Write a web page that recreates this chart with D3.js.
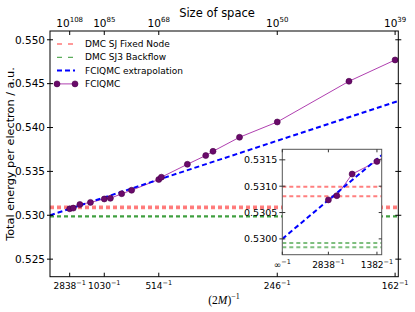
<!DOCTYPE html>
<html><head><meta charset="utf-8">
<script src="https://cdn.jsdelivr.net/npm/d3@7"></script>
<style>body{margin:0;background:#fff}svg{display:block}text{font-family:"DejaVu Sans",sans-serif}</style>
</head><body>
<script>
// ---- data ----
const twoM = [2838, 2400, 1873, 1382, 1030, 926, 780, 685, 514, 502, 407, 359, 343, 295, 246, 187, 162];
const energy = [0.53074, 0.53082, 0.53123, 0.53147, 0.53186, 0.53193, 0.53246, 0.53285, 0.53408, 0.53434, 0.53581, 0.53681, 0.53729, 0.53889, 0.54063, 0.54527, 0.54770];
const extrapX = [0, 0.00623];
const extrapY = [0.53000, 0.54302];
const dmcFixedNode = [0.53081, 0.53099];
const dmcBackflow = [0.52984, 0.52992];
const xTicks2M = [2838, 1030, 514, 246, 162];
const topExponents = ["108", "85", "68", "50", "39"];
const yTicks = [0.525, 0.530, 0.535, 0.540, 0.545, 0.550];
const insetXTicks = [Infinity, 2838, 1382];
const insetYTicks = [0.5300, 0.5305, 0.5310, 0.5315];
const legendLabels = ["DMC SJ Fixed Node", "DMC SJ3 Backflow", "FCIQMC extrapolation", "FCIQMC"];

const W = 415, H = 312;
const svg = d3.select("body").append("svg").attr("width", W).attr("height", H);
const P = {l: 50, t: 31, r: 398.3, b: 276.7};
const x = d3.scaleLinear().domain([0, 0.00623]).range([P.l, P.r]);
const y = d3.scaleLinear().domain([0.523, 0.551]).range([P.b, P.t]);
const pts = twoM.map((m, i) => ({x: 1 / m, y: energy[i]}));

const RED = "#ff0000", GREEN = "#008000", BLUE = "#0000ff", PURPLE = "#800080";

function drawContent(g, xs, ys, opts) {
  const [x0, x1] = xs.domain();
  dmcFixedNode.forEach(v => g.append("line").attr("x1", xs(x0)).attr("x2", xs(x1)).attr("y1", ys(v)).attr("y2", ys(v))
    .attr("stroke", RED).attr("stroke-opacity", 0.5).attr("stroke-width", 2).attr("stroke-dasharray", "4,3"));
  dmcBackflow.forEach(v => g.append("line").attr("x1", xs(x0)).attr("x2", xs(x1)).attr("y1", ys(v)).attr("y2", ys(v))
    .attr("stroke", GREEN).attr("stroke-opacity", 0.5).attr("stroke-width", 2).attr("stroke-dasharray", "4,3"));
  g.append("path").datum(pts).attr("fill", "none").attr("stroke", "#b040b0").attr("stroke-width", 1)
    .attr("d", d3.line().x(d => xs(d.x)).y(d => ys(d.y)));
  g.append("path").datum(extrapX.map((v, i) => [v, extrapY[i]])).attr("fill", "none").attr("stroke", BLUE)
    .attr("stroke-width", 2).attr("stroke-dasharray", "5,3")
    .attr("d", d3.line().x(d => xs(d[0])).y(d => ys(d[1])));
  g.selectAll("circle.pt").data(pts).join("circle").attr("class", "pt")
    .attr("cx", d => xs(d.x)).attr("cy", d => ys(d.y)).attr("r", opts.r)
    .attr("fill", "#6a0a6a").attr("stroke", "#4a004a").attr("stroke-width", 0.6);
}

// ---- main plot ----
svg.append("clipPath").attr("id", "mc").append("rect").attr("x", P.l).attr("y", P.t).attr("width", P.r - P.l).attr("height", P.b - P.t);
const main = svg.append("g").attr("clip-path", "url(#mc)");
drawContent(main, x, y, {r: 3});

// frame
svg.append("rect").attr("x", P.l).attr("y", P.t).attr("width", P.r - P.l).attr("height", P.b - P.t)
  .attr("fill", "none").attr("stroke", "#000").attr("stroke-width", 1);

// y ticks
yTicks.forEach(v => {
  const yy = y(v);
  svg.append("line").attr("x1", P.l - 3).attr("x2", P.l + 3).attr("y1", yy).attr("y2", yy).attr("stroke", "#000");
  svg.append("line").attr("x1", P.r - 3).attr("x2", P.r + 3).attr("y1", yy).attr("y2", yy).attr("stroke", "#000");
  svg.append("text").attr("x", P.l - 5).attr("y", yy).attr("dy", "0.36em").attr("text-anchor", "end")
    .attr("font-size", 10.5).text(d3.format(".3f")(v));
});
// x ticks bottom/top
xTicks2M.forEach((m, i) => {
  const xx = x(1 / m);
  svg.append("line").attr("x1", xx).attr("x2", xx).attr("y1", P.b).attr("y2", P.b - 4).attr("stroke", "#000");
  svg.append("line").attr("x1", xx).attr("x2", xx).attr("y1", P.t).attr("y2", P.t + 4).attr("stroke", "#000");
  const t = svg.append("text").attr("x", xx).attr("y", 289).attr("text-anchor", "middle").attr("font-size", 9);
  t.append("tspan").text(m);
  t.append("tspan").attr("dy", -4).attr("font-size", 6.5).text("\u22121");
  const tt = svg.append("text").attr("x", xx).attr("y", 27).attr("text-anchor", "middle").attr("font-size", 10.5);
  tt.append("tspan").text("10");
  tt.append("tspan").attr("dy", -5).attr("font-size", 7).text(topExponents[i]);
});

// axis titles
svg.append("text").attr("x", 217).attr("y", 16.5).attr("text-anchor", "middle").attr("font-size", 11.5).text("Size of space");
svg.append("text").attr("transform", "translate(13.5,154) rotate(-90)").attr("text-anchor", "middle")
  .attr("font-size", 11.3).text("Total energy per electron / a.u.");
const xl = svg.append("text").attr("x", 224).attr("y", 304).attr("text-anchor", "middle")
  .style("font-family", "'Liberation Serif',serif").attr("font-size", 11.5);
xl.append("tspan").text("(2");
xl.append("tspan").attr("font-style", "italic").text("M");
xl.append("tspan").text(")");
xl.append("tspan").attr("dy", -5).attr("font-size", 8).text("\u22121");

// legend
const lg = svg.append("g");
const lx0 = 57, lx1 = 75, tx = 85, ly0 = 44, dyL = 13.3;
const legendStyles = [
  {c: RED, o: 0.8, w: 1, dash: "5,6"},
  {c: GREEN, o: 0.8, w: 1, dash: "5,6"},
  {c: BLUE, o: 1, w: 2, dash: "5,3"},
  {c: "#b040b0", o: 1, w: 1, dash: null}
];
legendLabels.forEach((lab, i) => {
  const yy = ly0 + i * dyL, s = legendStyles[i];
  const ln = lg.append("line").attr("x1", lx0).attr("x2", lx1).attr("y1", yy).attr("y2", yy)
    .attr("stroke", s.c).attr("stroke-opacity", s.o).attr("stroke-width", s.w);
  if (s.dash) ln.attr("stroke-dasharray", s.dash);
  if (i === 3) [lx0, lx1].forEach(cx => lg.append("circle").attr("cx", cx).attr("cy", yy).attr("r", 3)
    .attr("fill", "#6a0a6a").attr("stroke", "#4a004a").attr("stroke-width", 0.6));
  lg.append("text").attr("x", tx).attr("y", yy).attr("dy", "0.35em").attr("font-size", 9).text(lab);
});

// ---- inset ----
const I = {l: 282.3, t: 149.3, r: 381.7, b: 254.7};
const xi = d3.scaleLinear().domain([0, 0.00076]).range([I.l, I.r]);
const yi = d3.scaleLinear().domain([0.5297, 0.5317]).range([I.b, I.t]);
svg.append("rect").attr("x", I.l).attr("y", I.t).attr("width", I.r - I.l).attr("height", I.b - I.t).attr("fill", "#fff");
svg.append("clipPath").attr("id", "ic").append("rect").attr("x", I.l).attr("y", I.t).attr("width", I.r - I.l).attr("height", I.b - I.t);
const ins = svg.append("g").attr("clip-path", "url(#ic)");
drawContent(ins, xi, yi, {r: 3});
svg.append("rect").attr("x", I.l).attr("y", I.t).attr("width", I.r - I.l).attr("height", I.b - I.t)
  .attr("fill", "none").attr("stroke", "#555").attr("stroke-width", 1);
insetYTicks.forEach(v => {
  const yy = yi(v);
  svg.append("line").attr("x1", I.l - 3).attr("x2", I.l + 3).attr("y1", yy).attr("y2", yy).attr("stroke", "#333");
  svg.append("line").attr("x1", I.r - 3).attr("x2", I.r).attr("y1", yy).attr("y2", yy).attr("stroke", "#333");
  svg.append("text").attr("x", I.l - 5).attr("y", yy).attr("dy", "0.36em").attr("text-anchor", "end")
    .attr("font-size", 9.5).text(d3.format(".4f")(v));
});
insetXTicks.forEach(m => {
  const xx = xi(1 / m);
  svg.append("line").attr("x1", xx).attr("x2", xx).attr("y1", I.b).attr("y2", I.b - 3).attr("stroke", "#333");
  svg.append("line").attr("x1", xx).attr("x2", xx).attr("y1", I.t).attr("y2", I.t + 3).attr("stroke", "#333");
  const t = svg.append("text").attr("x", xx).attr("y", 268).attr("text-anchor", "middle").attr("font-size", 9);
  t.append("tspan").text(m === Infinity ? "\u221e" : m);
  t.append("tspan").attr("dy", -4).attr("font-size", 6.5).text("\u22121");
});
</script>
</body></html>
